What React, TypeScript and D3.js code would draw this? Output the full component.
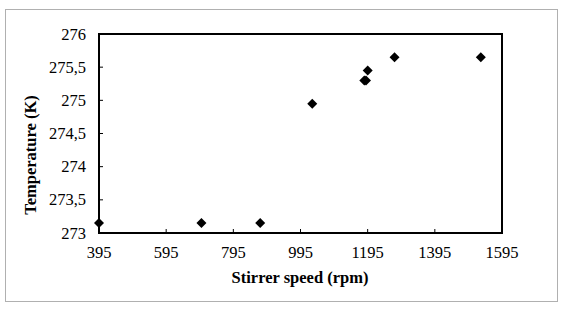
import React from "react";
import * as d3 from "d3";

const speeds = [395, 700, 875, 1030, 1185, 1190, 1195, 1275, 1532];
const temps = [273.15, 273.15, 273.15, 274.95, 275.3, 275.3, 275.45, 275.65, 275.65];
const xTicks = [395, 595, 795, 995, 1195, 1395, 1595];
const yTicks = [273, 273.5, 274, 274.5, 275, 275.5, 276];
const xTitle = "Stirrer speed (rpm)";
const yTitle = "Temperature (K)";

export default function App() {
  const W = 563, H = 309;
  const L = 99, R = 502, T = 34, B = 233;
  const x = d3.scaleLinear().domain([395, 1595]).range([L, R]);
  const y = d3.scaleLinear().domain([273, 276]).range([B, T]);
  const fmt = (v: number) => String(v).replace(".", ",");
  const font = '"Liberation Serif", "DejaVu Serif", serif';
  const diamond = (cx: number, cy: number, r = 5) =>
    `M${cx},${cy - r}L${cx + r},${cy}L${cx},${cy + r}L${cx - r},${cy}Z`;
  return (
    <svg width={W} height={H} style={{ position: "absolute", left: 0, top: 0, fontFamily: font }}>
      <rect x={0} y={0} width={W} height={H} fill="#fff" />
      <rect x={5.5} y={9.5} width={552} height={292} fill="#fff" stroke="#b0b0b0" strokeWidth={1} />
      {xTicks.map((t) => (
        <g key={"x" + t}>
          <line x1={x(t)} x2={x(t)} y1={B} y2={B - 4} stroke="#000" strokeWidth={1} />
          <text x={x(t)} y={258} textAnchor="middle" fontSize={16.5} fill="#000" style={{ fontFamily: font }}>{t}</text>
        </g>
      ))}
      {yTicks.map((t) => (
        <g key={"y" + t}>
          <line x1={L} x2={L + 4} y1={y(t)} y2={y(t)} stroke="#000" strokeWidth={1} />
          <text x={86} y={y(t) + 5.5} textAnchor="end" fontSize={16.5} fill="#000" style={{ fontFamily: font }}>{fmt(t)}</text>
        </g>
      ))}
      <rect x={L} y={T} width={R - L} height={B - T} fill="none" stroke="#000" strokeWidth={2} />
      {speeds.map((s, i) => (
        <path key={"p" + i} d={diamond(x(s), y(temps[i]))} fill="#000" />
      ))}
      <text x={300} y={283} textAnchor="middle" fontSize={16.5} fontWeight="bold" fill="#000" style={{ fontFamily: font }}>{xTitle}</text>
      <text transform={`translate(36,155) rotate(-90)`} textAnchor="middle" fontSize={16.5} fontWeight="bold" fill="#000" style={{ fontFamily: font }}>{yTitle}</text>
    </svg>
  );
}
